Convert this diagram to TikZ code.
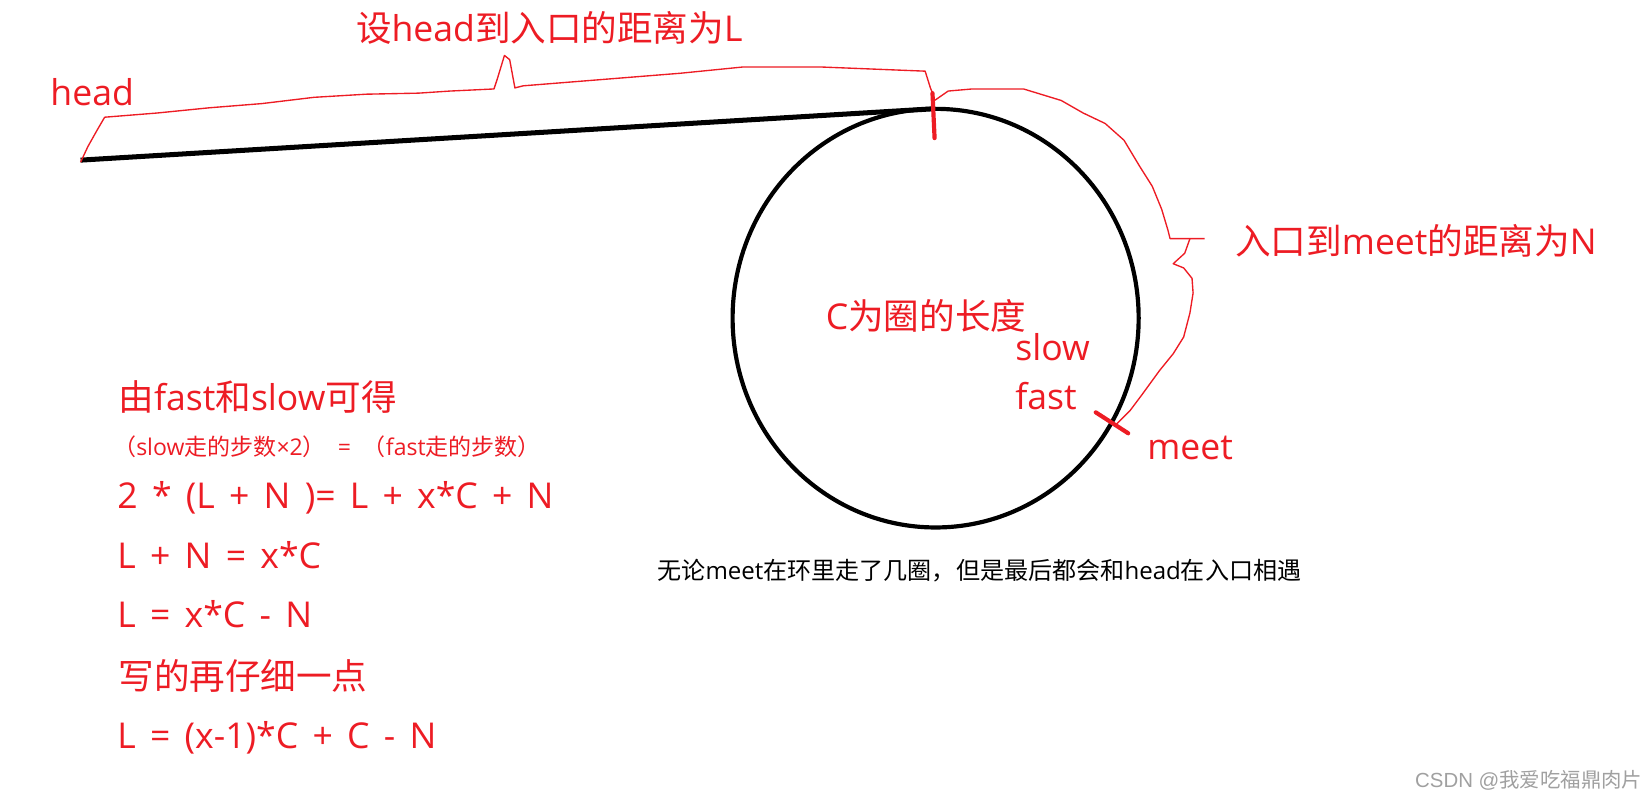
\documentclass[tikz,border=0pt]{standalone}
\usepackage{fontspec}
\setmainfont{Open Sans}
\newfontfamily\cjk{Noto Sans CJK SC}
\newfontfamily\lat{Open Sans}
\newfontfamily\wmf{Liberation Sans}
\definecolor{pred}{RGB}{237,28,36}
\definecolor{wmgray}{RGB}{160,160,160}
\newcommand{\widesp}{\spaceskip=13.6pt\relax}
\tikzset{
  redtxt/.style={text=pred, inner sep=0pt, anchor=base west, font=\fontsize{34}{40}\selectfont},
  eqtxt/.style={redtxt, execute at begin node=\widesp},
  smalltxt/.style={text=pred, inner sep=0pt, anchor=base west, font=\fontsize{22}{26}\selectfont},
  blacktxt/.style={text=black, inner sep=0pt, anchor=base west, font=\fontsize{23}{28}\selectfont},
  wmtxt/.style={text=wmgray, inner sep=0pt, anchor=base west, font=\fontsize{19.5}{22}\selectfont},
  listline/.style={line width=4.8pt, black},
  ring/.style={line width=4pt, black},
  bracel/.style={line width=1.3pt, pred, line join=round},
  ticks/.style={line width=4pt, pred, line cap=round}
}
\begin{document}
\begin{tikzpicture}[x=1pt, y=-1pt]
\useasboundingbox (0,0) rectangle (1568,765);

% linked list part and ring
\coordinate (headpt) at (77,153);
\coordinate (entry) at (891,104);
\draw[listline] (headpt) -- (entry);
\draw[ring] (894,304) ellipse [x radius=194pt, y radius=200pt];

% ticks
\coordinate (tickA1) at (891,89);
\coordinate (tickA2) at (893,132);
\draw[ticks] (tickA1) -- (tickA2);
\coordinate (tickB1) at (1047,394);
\coordinate (tickB2) at (1078,414);
\draw[ticks] (tickB1) -- (tickB2);

% brace head -> entry
\draw[bracel] (77,155) -- (84,140) -- (93,124) -- (100,112) -- (125,110) -- (150,108) -- (200,103)
  -- (250,99) -- (300,93) -- (350,90) -- (400,89) -- (430,87) -- (472,85) -- (475,76)
  -- (482,53) -- (487,57) -- (492,84) -- (500,82) -- (550,78) -- (600,74) -- (650,70)
  -- (710,64) -- (784,64) -- (884,68) -- (889,84) -- (891,89);

% brace entry -> meet
\draw[bracel] (893,96) -- (906,87) -- (929,85) -- (978,85) -- (1014,96) -- (1035,108)
  -- (1056,118) -- (1074,134) -- (1089,159) -- (1101,178) -- (1110,200) -- (1116,220)
  -- (1118,228) -- (1151,228);
\draw[bracel] (1137,228) -- (1132,242) -- (1121,252) -- (1131,256) -- (1139,266)
  -- (1140,280) -- (1137,299) -- (1131,322) -- (1121,338) -- (1108,354) -- (1092,376)
  -- (1080,392) -- (1066,406);

% labels
\node[redtxt] (lhead) at (48,101) {\lat head};
\node[redtxt] (ltitle) at (340,40) {\cjk 设\lat head\cjk 到入口的距离为\lat L};
\node[redtxt] (lN) at (1180,243) {\cjk 入口到\lat meet\cjk 的距离为\lat N};
\node[redtxt] (lC) at (789,315) {\lat C\cjk 为圈的长度};
\node[redtxt] (lslow) at (970,344) {\lat slow};
\node[redtxt] (lfast) at (970,391) {\lat fast};
\node[redtxt] (lmeet) at (1096,439) {\lat meet};

% left block
\node[redtxt] (e1) at (113,392) {\cjk 由\lat fast\cjk 和\lat slow\cjk 可得};
\node[smalltxt] (e2) at (108,435) {\cjk （\lat slow\cjk 走的步数\lat ×2\cjk ）\lat\ \ =\ \ \cjk （\lat fast\cjk 走的步数）};
\node[eqtxt] (e3) at (112,486) {2 * (L + N )= L + x*C + N};
\node[eqtxt] (e4) at (112,543) {L + N = x*C};
\node[eqtxt] (e5) at (112,600) {L = x*C - N};
\node[redtxt] (e6) at (113,659) {\cjk 写的再仔细一点};
\node[eqtxt] (e7) at (112,715) {L = (x-1)*C + C - N};

% bottom note
\node[blacktxt] (note) at (628,554) {\cjk 无论\lat meet\cjk 在环里走了几圈，但是最后都会和\lat head\cjk 在入口相遇};

% watermark
\node[wmtxt] (wm) at (1352,752) {\wmf CSDN @\cjk 我爱吃福鼎肉片};
\end{tikzpicture}
\end{document}
